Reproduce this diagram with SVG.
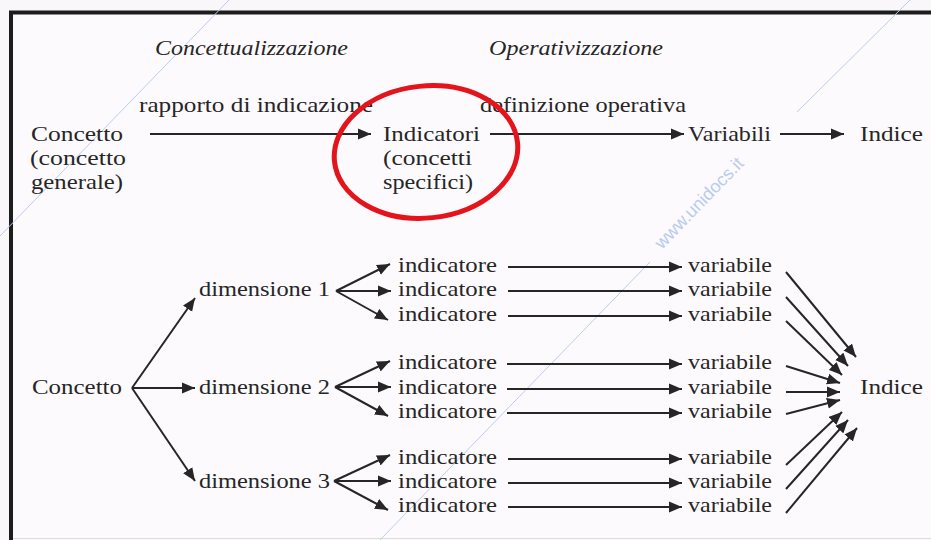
<svg xmlns="http://www.w3.org/2000/svg" width="931" height="540" viewBox="0 0 931 540">
<style>
  .t{font-family:"Liberation Serif","DejaVu Serif","Noto Serif","Times New Roman",serif;font-size:22px;fill:#262626}
  .i{font-style:italic}
  .c{stroke:#262626;stroke-width:2;fill:none}
  .a{marker-end:url(#ah)}
  .wm{stroke:#b9cdee;stroke-width:1;fill:none}
</style>
<defs>
  <marker id="ah" markerUnits="userSpaceOnUse" markerWidth="14" markerHeight="12" refX="13" refY="6" orient="auto">
    <path d="M0,0.5 L13,6 L0,11.5 z" fill="#262626"/>
  </marker>
</defs>
<rect x="0" y="0" width="931" height="540" fill="#f9f7f9"/>
<rect x="11" y="12.5" width="920" height="526" fill="#fdfafd"/>
<path d="M11,540 L11,12.5 L931,12.5" stroke="#1c1c1c" stroke-width="4" fill="none"/>
<line x1="13" y1="538.5" x2="931" y2="538.5" stroke="#dddddd" stroke-width="1"/>

<!-- watermark -->
<g id="watermark">
  <line class="wm" x1="229" y1="0" x2="0" y2="236"/>
  <line class="wm" x1="910" y1="0" x2="797" y2="112"/>
  <line class="wm" x1="380" y1="540" x2="650" y2="262"/>
  <text transform="translate(662,250) rotate(-46)" font-family="Liberation Sans, Arial, sans-serif" font-size="18" fill="#b9cdee">www.unidocs.it</text>
</g>

<!-- headings -->
<g id="headings">
  <text class="t i" x="155" y="55" textLength="193" lengthAdjust="spacingAndGlyphs">Concettualizzazione</text>
  <text class="t i" x="489" y="55" textLength="174" lengthAdjust="spacingAndGlyphs">Operativizzazione</text>
</g>

<!-- connectors -->
<g id="connectors">
  <line class="c a" x1="150" y1="134" x2="371" y2="134"/>
  <line class="c a" x1="490" y1="134" x2="684" y2="134"/>
  <line class="c a" x1="780" y1="134" x2="844" y2="134"/>
  <line class="c a" x1="132" y1="388" x2="195" y2="298"/>
  <line class="c a" x1="132" y1="388" x2="195" y2="388"/>
  <line class="c a" x1="132" y1="388" x2="195" y2="481"/>
  <line class="c a" x1="336" y1="291" x2="390" y2="264"/>
  <line class="c a" x1="336" y1="291" x2="391" y2="291"/>
  <line class="c a" x1="336" y1="291" x2="388" y2="320"/>
  <line class="c a" x1="335" y1="387" x2="390" y2="361"/>
  <line class="c a" x1="335" y1="387" x2="391" y2="387"/>
  <line class="c a" x1="335" y1="387" x2="388" y2="416"/>
  <line class="c a" x1="334" y1="481" x2="390" y2="455"/>
  <line class="c a" x1="334" y1="481" x2="391" y2="481"/>
  <line class="c a" x1="334" y1="481" x2="388" y2="510"/>
  <line class="c a" x1="508" y1="267" x2="682" y2="267"/>
  <line class="c a" x1="508" y1="291" x2="682" y2="291"/>
  <line class="c a" x1="508" y1="316" x2="682" y2="316"/>
  <line class="c a" x1="507" y1="364" x2="682" y2="364"/>
  <line class="c a" x1="507" y1="389" x2="682" y2="389"/>
  <line class="c a" x1="507" y1="413" x2="682" y2="413"/>
  <line class="c a" x1="508" y1="459" x2="682" y2="459"/>
  <line class="c a" x1="508" y1="483" x2="682" y2="483"/>
  <line class="c a" x1="508" y1="507" x2="682" y2="507"/>
  <line class="c a" x1="786" y1="272" x2="856" y2="357"/>
  <line class="c a" x1="786" y1="297" x2="848" y2="366"/>
  <line class="c a" x1="786" y1="321" x2="842" y2="375"/>
  <line class="c a" x1="786" y1="366" x2="840" y2="383"/>
  <line class="c a" x1="786" y1="392" x2="840" y2="392"/>
  <line class="c a" x1="786" y1="414" x2="840" y2="400"/>
  <line class="c a" x1="786" y1="465" x2="842" y2="412"/>
  <line class="c a" x1="786" y1="489" x2="848" y2="420"/>
  <line class="c a" x1="786" y1="513" x2="857" y2="428"/>
</g>

<g id="label-rapporto"><text class="t" x="139" y="112" textLength="234" lengthAdjust="spacingAndGlyphs">rapporto di indicazione</text></g>
<g id="label-definizione"><text class="t" x="480" y="112" textLength="206" lengthAdjust="spacingAndGlyphs">definizione operativa</text></g>
<g id="concetto-generale">
  <text class="t" x="31" y="141" textLength="92" lengthAdjust="spacingAndGlyphs">Concetto</text>
  <text class="t" x="30" y="165" textLength="96" lengthAdjust="spacingAndGlyphs">(concetto</text>
  <text class="t" x="31" y="189" textLength="92" lengthAdjust="spacingAndGlyphs">generale)</text>
</g>
<g id="indicatori">
  <text class="t" x="383" y="141" textLength="97" lengthAdjust="spacingAndGlyphs">Indicatori</text>
  <text class="t" x="383" y="165" textLength="89" lengthAdjust="spacingAndGlyphs">(concetti</text>
  <text class="t" x="383" y="189" textLength="90" lengthAdjust="spacingAndGlyphs">specifici)</text>
</g>
<g id="variabili"><text class="t" x="688" y="141" textLength="83" lengthAdjust="spacingAndGlyphs">Variabili</text></g>
<g id="indice-top"><text class="t" x="860" y="141" textLength="63" lengthAdjust="spacingAndGlyphs">Indice</text></g>
<g id="highlight"><ellipse cx="426" cy="152" rx="92" ry="66" transform="rotate(-6 426 152)" fill="none" stroke="#e3141b" stroke-width="5"/></g>

<g id="concetto"><text class="t" x="32" y="394" textLength="90" lengthAdjust="spacingAndGlyphs">Concetto</text></g>
<g id="dimensione-1"><text class="t" x="199" y="296" textLength="131" lengthAdjust="spacingAndGlyphs">dimensione 1</text></g>
<g id="dimensione-2"><text class="t" x="199" y="394" textLength="131" lengthAdjust="spacingAndGlyphs">dimensione 2</text></g>
<g id="dimensione-3"><text class="t" x="199" y="488" textLength="131" lengthAdjust="spacingAndGlyphs">dimensione 3</text></g>

<g id="indicatori-list">
  <text class="t" x="398" y="272" textLength="99" lengthAdjust="spacingAndGlyphs">indicatore</text>
  <text class="t" x="398" y="296" textLength="99" lengthAdjust="spacingAndGlyphs">indicatore</text>
  <text class="t" x="398" y="321" textLength="99" lengthAdjust="spacingAndGlyphs">indicatore</text>
  <text class="t" x="398" y="369" textLength="99" lengthAdjust="spacingAndGlyphs">indicatore</text>
  <text class="t" x="398" y="394" textLength="99" lengthAdjust="spacingAndGlyphs">indicatore</text>
  <text class="t" x="398" y="418" textLength="99" lengthAdjust="spacingAndGlyphs">indicatore</text>
  <text class="t" x="398" y="464" textLength="99" lengthAdjust="spacingAndGlyphs">indicatore</text>
  <text class="t" x="398" y="488" textLength="99" lengthAdjust="spacingAndGlyphs">indicatore</text>
  <text class="t" x="398" y="512" textLength="99" lengthAdjust="spacingAndGlyphs">indicatore</text>
</g>
<g id="variabili-list">
  <text class="t" x="688" y="272" textLength="84" lengthAdjust="spacingAndGlyphs">variabile</text>
  <text class="t" x="688" y="296" textLength="84" lengthAdjust="spacingAndGlyphs">variabile</text>
  <text class="t" x="688" y="321" textLength="84" lengthAdjust="spacingAndGlyphs">variabile</text>
  <text class="t" x="688" y="369" textLength="84" lengthAdjust="spacingAndGlyphs">variabile</text>
  <text class="t" x="688" y="394" textLength="84" lengthAdjust="spacingAndGlyphs">variabile</text>
  <text class="t" x="688" y="418" textLength="84" lengthAdjust="spacingAndGlyphs">variabile</text>
  <text class="t" x="688" y="464" textLength="84" lengthAdjust="spacingAndGlyphs">variabile</text>
  <text class="t" x="688" y="488" textLength="84" lengthAdjust="spacingAndGlyphs">variabile</text>
  <text class="t" x="688" y="512" textLength="84" lengthAdjust="spacingAndGlyphs">variabile</text>
</g>
<g id="indice"><text class="t" x="860" y="394" textLength="63" lengthAdjust="spacingAndGlyphs">Indice</text></g>
</svg>
